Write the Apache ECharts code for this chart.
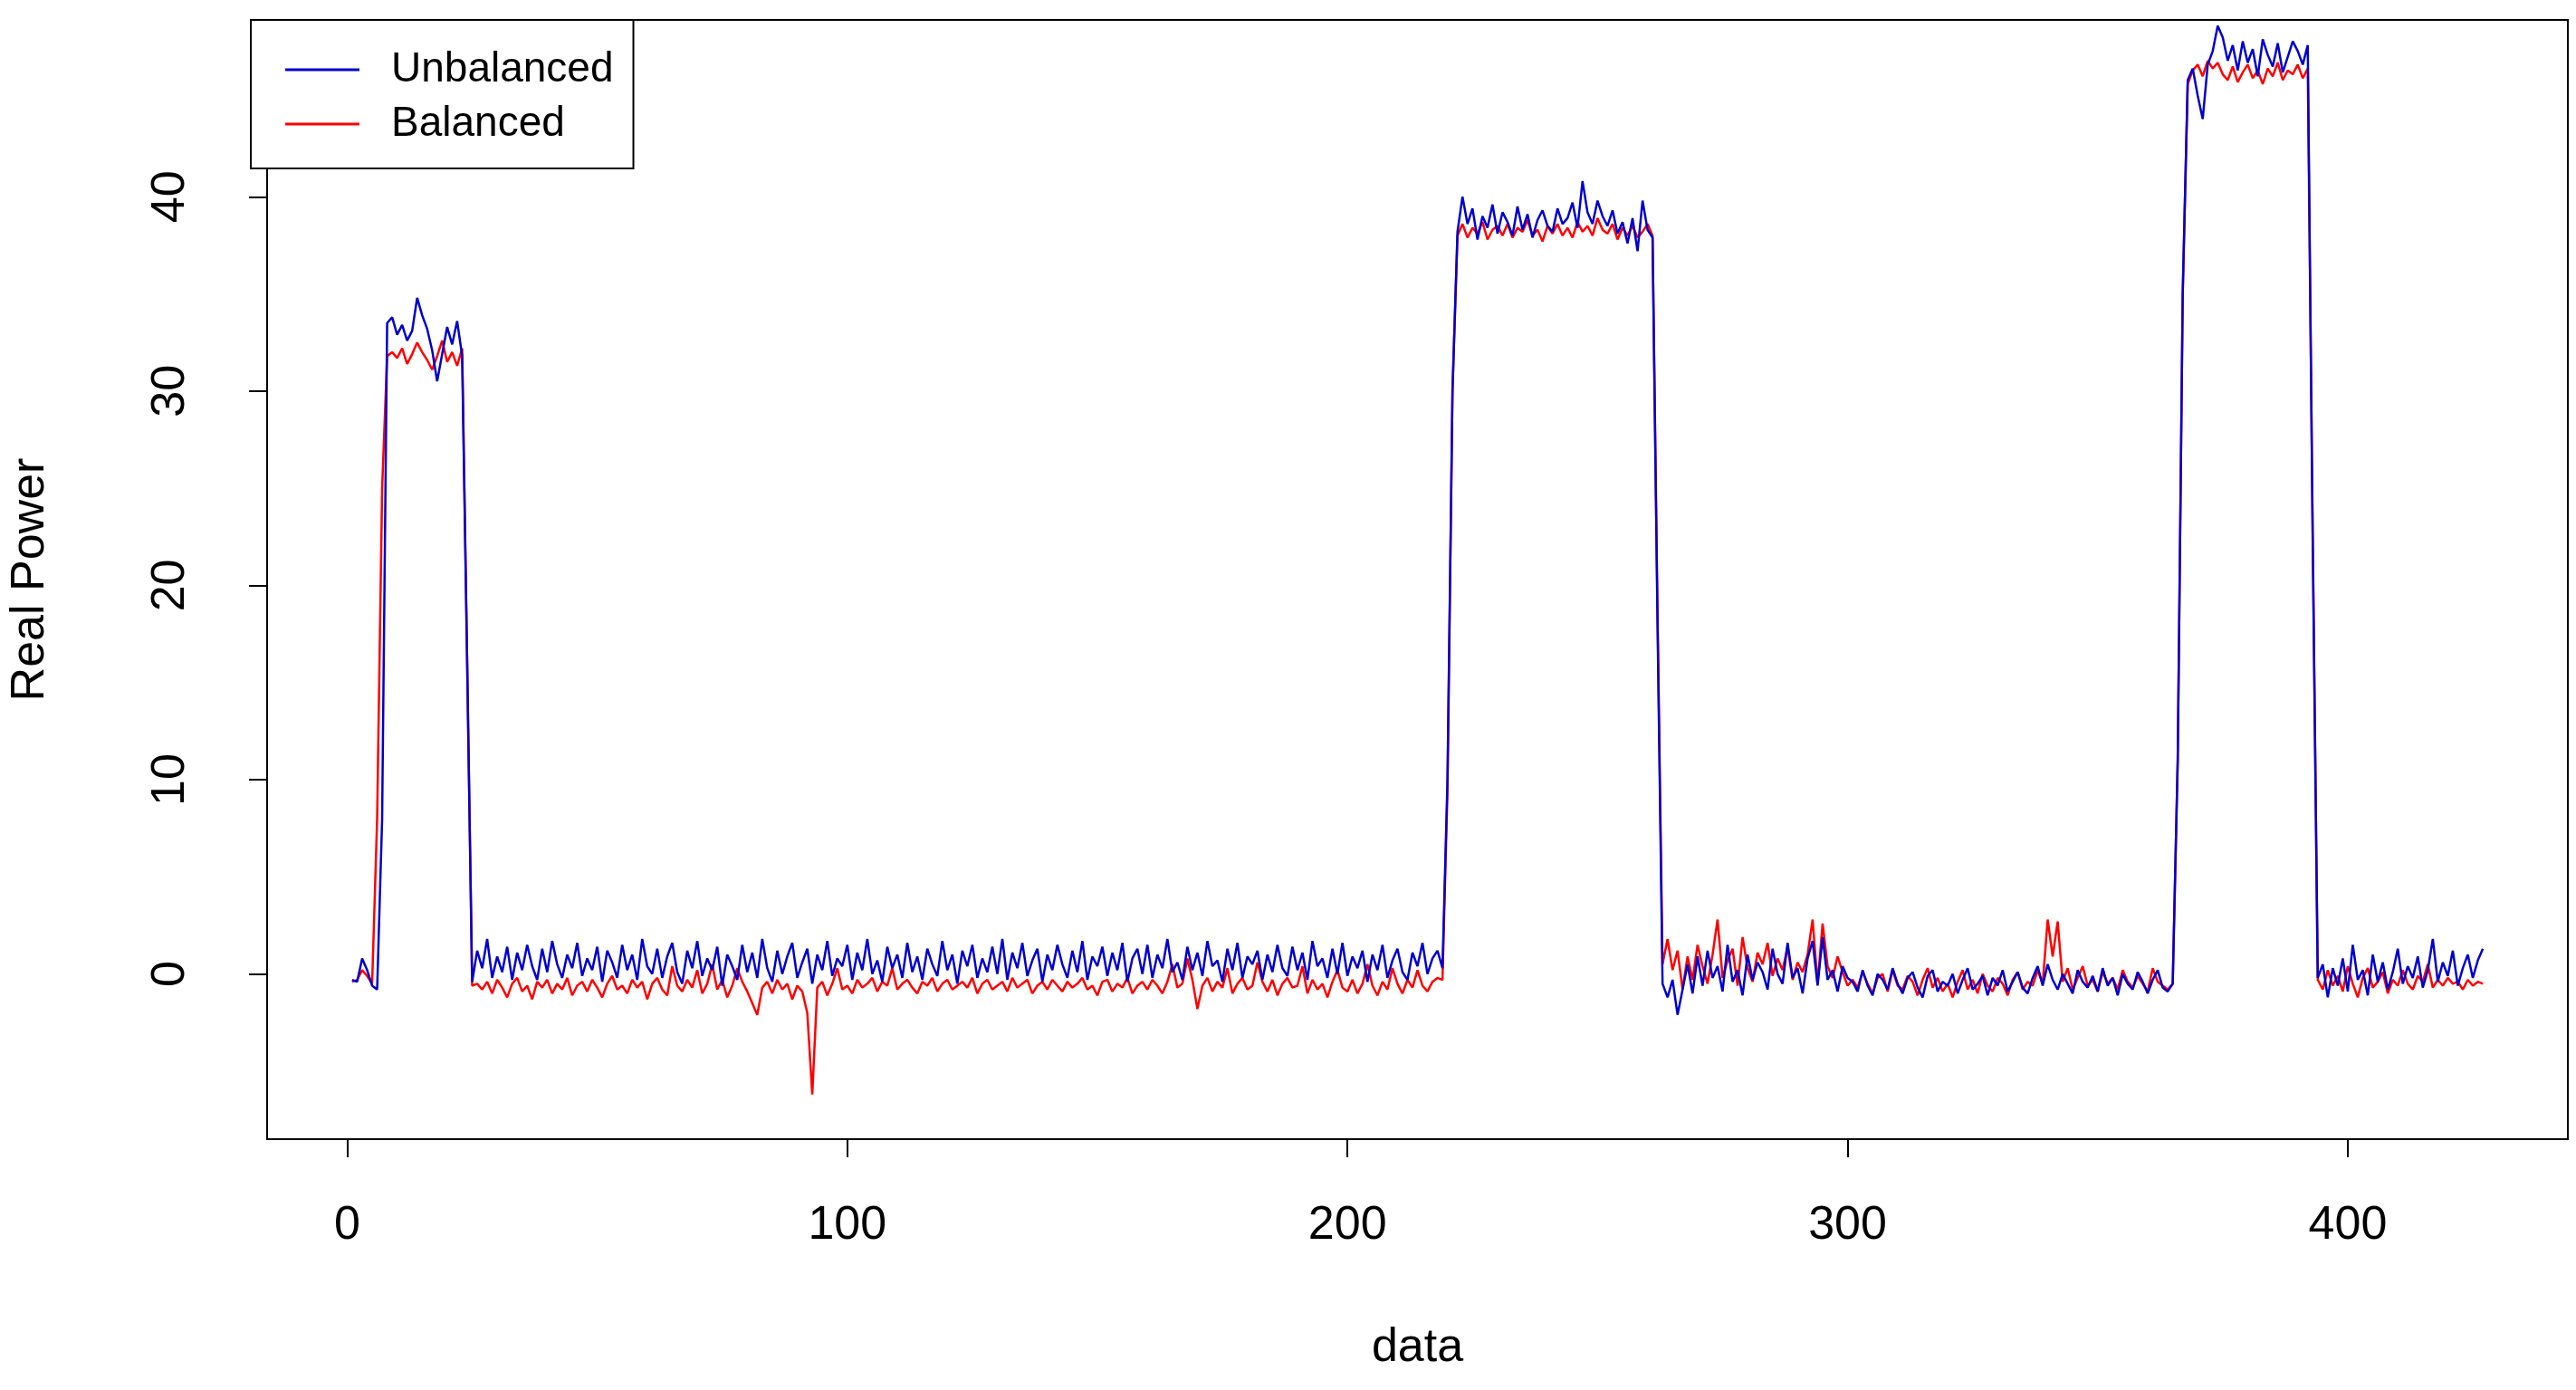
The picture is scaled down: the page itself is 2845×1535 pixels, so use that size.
<!DOCTYPE html>
<html lang="en">
<head>
    <meta charset="UTF-8">
    <title>Real Power</title>
    <script src="https://cdn.jsdelivr.net/npm/echarts@6/dist/echarts.min.js"></script>
    <style>html,body{margin:0;padding:0;background:#fff}</style>
</head>
<body>
<div id="main" style="width: 2845px;height: 1535px"></div>
<script>
    // unbalanced (blue), segment by segment
    var ubStart = [-0.3,-0.4,0.8,0.2,-0.6,-0.8,8];
    var ubHigh1 = [33.5,33.8,32.9,33.4,32.6,33.1,34.8,33.9,33.2,32.1,30.5,31.9,33.3,32.4,33.6,31.8];
    var ubLow1 = [
        -0.4,1.2,0.3,1.8,-0.2,0.9,0.1,1.4,-0.3,1.1,0.2,1.5,0.4,-0.3,1.3,
        0.1,1.7,0.5,-0.2,1.0,0.3,1.6,-0.1,0.8,0.2,1.4,-0.4,1.2,0.6,-0.2,
        1.5,0.2,1.0,-0.3,1.8,0.4,0.0,1.3,-0.2,0.9,1.6,0.1,-0.5,1.2,0.3,
        1.7,-0.1,0.8,0.2,1.4,-0.6,1.0,0.4,-0.3,1.5,0.1,1.1,-0.2,1.8,0.3,
        -0.4,1.2,0.0,0.9,1.6,-0.2,0.6,1.3,-0.5,1.0,0.2,1.7,-0.1,0.8,0.4,
        1.5,-0.3,1.1,0.2,1.8,0.0,0.7,-0.4,1.4,0.3,1.0,-0.2,1.6,0.1,0.9,
        -0.3,1.3,0.5,-0.1,1.7,0.2,1.0,-0.5,1.2,0.4,1.5,-0.2,0.8,0.1,1.4,
        0.0,1.8,-0.3,1.1,0.3,1.6,-0.1,0.7,1.3,-0.4,1.0,0.2,1.5,0.5,-0.2,
        1.2,0.1,1.7,-0.3,0.9,0.4,1.4,-0.1,1.1,0.2,1.6,-0.4,0.8,1.3,0.0,
        1.5,-0.2,1.0,0.3,1.8,0.1,0.6,-0.3,1.4,0.2,1.1,-0.1,1.7,0.4,0.7,
        -0.4,1.3,0.2,1.6,-0.2,0.9,0.5,1.2,-0.3,1.0,0.1,1.5,0.3,-0.1,1.4,
        0.2,1.1,-0.3,1.7,0.4,0.8,-0.2,1.3,0.0,1.6,-0.1,0.9,0.3,1.2,-0.4,
        1.0,0.2,1.5,-0.2,0.7,1.3,0.1,-0.3,1.1,0.4,1.6,0.0,0.8,1.2,0.3];
    var ubHigh2 = [38.2,40.0,38.6,39.4,37.8,39.0,38.4,39.6,38.1,39.2,38.7,38.0,39.5,38.3,39.1,37.9,38.8,39.3,38.5,38.2,
        39.4,38.6,38.9,39.7,38.4,40.8,39.2,38.6,39.8,39.0,38.5,39.3,38.1,38.7,37.6,38.9,37.2,39.8,38.3,37.9];
    var ubLow2 = [-0.5,-1.2,-0.3,-2.1,-0.8,0.5,-1.0,0.9,-0.6,1.2,-0.2,0.4,-0.9,1.5,-0.4,0.2,-1.1,1.0,-0.3,0.6,
        0.1,-0.8,1.3,0.0,-0.5,1.6,-0.2,0.3,-1.0,0.8,1.7,-0.6,1.9,-0.3,0.2,-0.9,0.4,-0.2];
    var ubLow3 = [-0.4,-0.9,0.2,-0.6,-1.1,0.0,-0.3,-0.8,0.3,-0.5,
        -1.0,-0.2,0.1,-0.7,-1.2,-0.1,0.2,-0.9,-0.4,-0.6,
        0.0,-1.0,-0.3,0.3,-0.8,-0.5,-0.1,-1.1,-0.2,-0.6,
        0.2,-0.9,-0.4,0.1,-0.7,-1.0,-0.2,0.4,-0.6,0.5,
        -0.3,-0.8,0.0,-0.5,-1.0,0.2,-0.4,-0.7,-0.1,-0.9,
        0.3,-0.6,-0.2,-1.1,0.0,-0.5,-0.8,0.1,-0.4,-1.0,
        -0.3,0.2,-0.7,-0.9,-0.5];
    var ubHigh3 = [46.0,46.6,45.2,44.0,46.8,47.5,48.8,48.2,47.0,47.8,46.5,48.0,46.9,47.6,46.2,48.1,47.3,46.7,47.9,46.4,47.2,48.0,47.5,46.8,47.8];
    var ubEnd = [-0.2,0.5,-1.2,0.3,-0.6,0.8,-0.9,1.5,-0.3,0.2,-1.1,1.0,-0.4,0.6,-0.8,0.1,1.3,-0.5,0.4,-0.2,
        0.9,-0.7,0.2,1.8,-0.4,0.6,-0.1,1.2,-0.6,0.3,1.0,-0.2,0.7,1.3];

    // balanced (red)
    var bStart = [-0.4,-0.3,0.2,-0.1,-0.5,8,25];
    var bHigh1 = [31.8,32.0,31.7,32.2,31.4,31.9,32.5,32.0,31.6,31.1,31.8,32.6,31.5,32.0,31.3,32.2];
    var bLow1 = [
        -0.6,-0.5,-0.8,-0.4,-1.0,-0.3,-0.7,-1.2,-0.5,-0.2,-0.9,-0.6,-1.3,-0.4,-0.7,
        -0.3,-1.0,-0.5,-0.8,-0.2,-1.1,-0.6,-0.4,-0.9,-0.3,-0.7,-1.2,-0.5,-0.1,-0.8,
        -0.6,-1.0,-0.3,-0.7,-0.4,-1.3,-0.5,-0.2,-0.8,-1.1,0.4,-0.6,-0.9,-0.3,-0.7,
        0.2,-1.0,-0.5,0.5,-0.8,-0.3,-1.2,-0.6,0.3,-0.4,-0.9,-1.5,-2.1,-0.7,-0.4,
        -1.0,-0.3,-0.8,-0.5,-1.3,-0.6,-0.9,-2.0,-6.2,-0.7,-0.4,-1.1,-0.5,0.3,-0.8,
        -0.6,-1.0,-0.3,-0.7,-0.5,-0.2,-0.9,-0.4,-0.6,0.3,-0.8,-0.5,-0.3,-0.7,-1.0,
        -0.4,-0.6,-0.2,-0.9,-0.5,-0.3,-0.8,-0.6,-0.4,-0.7,-0.2,-1.0,-0.5,-0.3,-0.8,
        -0.6,-0.4,-0.9,-0.2,-0.7,-0.5,-0.3,-1.0,-0.6,-0.4,-0.8,-0.3,-0.6,-0.9,-0.4,
        -0.7,-0.5,-0.2,-0.8,-0.6,-1.1,-0.4,-0.3,-0.9,-0.5,-0.7,-0.2,-1.0,-0.6,-0.4,
        -0.8,-0.3,-0.6,-1.0,-0.4,0.5,-0.7,-0.5,0.8,-0.3,-1.8,-0.6,-0.2,-0.9,-0.4,
        -0.7,0.3,-1.0,-0.5,-0.2,-0.8,-0.6,0.6,-0.4,-0.9,-0.3,-1.1,-0.5,-0.2,-0.7,
        -0.6,0.4,-1.0,-0.3,-0.8,-0.5,-1.2,-0.4,0.2,-0.7,-0.9,-0.3,-1.0,-0.5,0.5,
        -0.6,-1.1,-0.4,-0.8,0.3,-0.5,-1.0,-0.3,-0.7,0.2,-0.6,-0.9,-0.4,-0.2,-0.3];
    var bHigh2 = [38.0,38.6,37.9,38.4,38.1,38.7,37.8,38.3,38.5,38.0,38.6,37.9,38.4,38.2,38.8,38.0,38.3,37.7,38.5,38.1,
        38.6,38.0,38.4,37.9,38.7,38.2,38.5,38.0,38.9,38.3,38.1,38.6,37.8,38.4,38.0,38.5,37.9,38.2,38.6,38.0];
    var bLow2 = [0.5,1.8,0.2,1.2,-0.8,0.9,-0.3,1.5,0.4,-0.5,1.0,2.8,-0.2,0.7,1.3,-0.6,1.9,0.3,-0.4,1.1,
        0.5,1.6,-0.1,0.8,0.2,1.4,-0.3,0.6,0.1,1.0,2.8,-0.5,2.6,0.4,-0.2,0.9,0.1,-0.6];
    var bLow3 = [-0.3,-0.7,0.1,-0.5,-1.0,-0.2,0.0,-0.9,0.2,-0.6,
        -0.8,-0.1,-0.4,-1.1,-0.3,0.3,-0.7,-0.2,-0.9,-0.5,
        -1.2,-0.4,0.2,-0.8,-0.3,-1.0,0.0,-0.6,-0.9,-0.2,
        -0.5,-1.1,-0.3,0.1,-0.8,-0.4,-0.6,0.2,-0.5,2.8,
        0.9,2.7,-0.4,0.3,-0.8,-0.2,0.4,-0.6,-0.3,-0.9,
        0.1,-0.5,-0.2,-0.8,0.2,-0.4,-0.7,-0.1,-0.5,-0.9,
        0.3,-0.4,-0.6,-0.8,-0.5];
    var bHigh3 = [45.8,46.5,46.8,46.2,47.0,46.6,46.9,46.3,46.0,46.7,45.9,46.4,46.8,46.1,46.5,45.8,46.6,46.2,46.9,46.0,46.5,46.3,46.8,46.1,46.6];
    var bEnd = [-0.3,-0.8,0.2,-0.6,-0.1,-0.9,0.4,-0.5,-1.2,-0.2,0.3,-0.7,-0.4,0.1,-1.0,-0.3,-0.6,0.2,-0.5,-0.8,
        -0.1,-0.4,0.5,-0.7,-0.3,-0.6,-0.2,-0.5,-0.4,-0.8,-0.3,-0.6,-0.4,-0.5];

    var unbalanced = [].concat(ubStart, ubHigh1, [16], ubLow1, [10, 30], ubHigh2, [18], ubLow2, ubLow3, [11, 35], ubHigh3, [22], ubEnd);
    var balanced = [].concat(bStart, bHigh1, [16], bLow1, [9.5, 30], bHigh2, [18.5], bLow2, bLow3, [11, 35], bHigh3, [22.5], bEnd);

    var xTicks = [0, 100, 200, 300, 400];
    var yTicks = [0, 10, 20, 30, 40];

    function pairs(arr) {
        var out = [];
        for (var i = 0; i < arr.length; i++) out.push([i + 1, arr[i]]);
        return out;
    }

    var font = 'Liberation Sans, Arial, sans-serif';
    var myChart = echarts.init(document.getElementById('main'));
    var option = {
        animation: false,
        backgroundColor: '#fff',
        grid: {left: 277, top: 22, width: 2559, height: 1236, show: true, borderColor: '#000', borderWidth: 2, backgroundColor: 'transparent'},
        legend: {
            left: 277, top: 22, orient: 'vertical',
            padding: [32, 22, 26, 38], itemGap: 14,
            backgroundColor: '#fff', borderColor: '#000', borderWidth: 2,
            itemWidth: 82, itemHeight: 3, icon: 'rect',
            textStyle: {fontFamily: font, fontSize: 46, color: '#000', padding: [0, 0, 0, 30]},
            data: ['Unbalanced', 'Balanced']
        },
        xAxis: {
            type: 'value', min: -16, max: 444,
            name: 'data', nameLocation: 'middle', nameGap: 205,
            nameTextStyle: {fontFamily: font, fontSize: 52, color: '#000'},
            splitLine: {show: false},
            axisLine: {show: true, onZero: false, lineStyle: {color: '#000', width: 2}},
            axisTick: {show: true, length: 20, lineStyle: {color: '#000', width: 2}, customValues: xTicks},
            axisLabel: {fontFamily: font, fontSize: 52, color: '#000', margin: 70, customValues: xTicks}
        },
        yAxis: {
            type: 'value', min: -8.5, max: 49.1,
            name: 'Real Power', nameLocation: 'middle', nameGap: 235, nameRotate: 90,
            nameTextStyle: {fontFamily: font, fontSize: 52, color: '#000'},
            splitLine: {show: false},
            axisLine: {show: true, onZero: false, lineStyle: {color: '#000', width: 2}},
            axisTick: {show: true, length: 20, lineStyle: {color: '#000', width: 2}, customValues: yTicks},
            axisLabel: {fontFamily: font, fontSize: 52, color: '#000', margin: 80, rotate: 90, customValues: yTicks}
        },
        series: [{
            name: 'Balanced', type: 'line', data: pairs(balanced),
            showSymbol: false, color: '#ff0000', lineStyle: {width: 2.5}, z: 2
        }, {
            name: 'Unbalanced', type: 'line', data: pairs(unbalanced),
            showSymbol: false, color: '#0000cd', lineStyle: {width: 2.5}, z: 3
        }]
    };
    myChart.setOption(option);
</script>
</body>
</html>
